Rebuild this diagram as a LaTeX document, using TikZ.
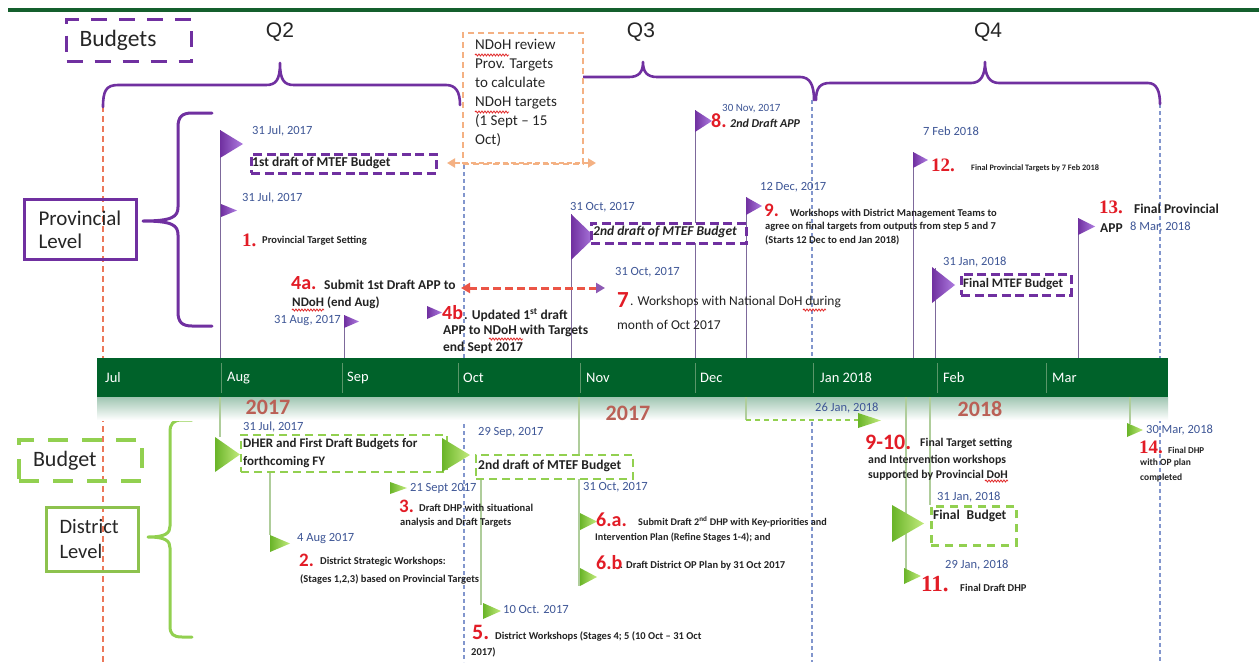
\documentclass[tikz,border=0pt]{standalone}
\usepackage{fontspec}
\setmainfont{Carlito}
\newfontfamily\qfont{Liberation Sans}
\newfontfamily\numfont{Liberation Serif}
\usetikzlibrary{arrows.meta,decorations.pathmorphing}

\definecolor{pur}{RGB}{112,48,160}
\definecolor{purlt}{RGB}{175,125,225}
\definecolor{polec}{RGB}{125,105,155}
\definecolor{tl}{RGB}{0,98,42}
\definecolor{tlsep}{RGB}{90,150,105}
\definecolor{topg}{RGB}{20,95,45}
\definecolor{gbox}{RGB}{146,208,80}
\definecolor{gline}{RGB}{141,194,78}
\definecolor{gpole}{RGB}{175,205,155}
\definecolor{gdk}{RGB}{105,180,40}
\definecolor{gltp}{RGB}{195,235,125}
\definecolor{obox}{RGB}{244,177,131}
\definecolor{numred}{RGB}{226,28,38}
\definecolor{dateblue}{RGB}{62,86,150}
\definecolor{vblue}{RGB}{130,150,205}
\definecolor{salmon}{RGB}{236,120,90}
\definecolor{yr}{RGB}{186,96,86}
\definecolor{txt}{RGB}{35,35,35}
\definecolor{redarr}{RGB}{235,85,70}
\definecolor{spell}{RGB}{225,40,40}

\newcommand\fsz[2]{\fontsize{#1}{#2}\selectfont}
% pennant: x, y of top corner, width, height, style
\newcommand\flagtri[5]{\path[#5] (#1,#2) -- ++(#3,#4/2) -- ++(-#3,#4/2) -- cycle;}

\tikzset{
  ppen/.style={left color=pur, right color=purlt, draw=none},
  gpen/.style={left color=gdk, right color=gltp, draw=none},
  ppole/.style={draw=polec, line width=0.9},
  gpoleline/.style={draw=gpole, line width=1.1},
  vdash/.style={draw=vblue, line width=1.2, dash pattern=on 4pt off 3pt},
  brace/.style={draw=pur, line width=2.6, line cap=round, line join=round},
  wavy/.style={draw=spell, line width=0.8, decorate, decoration={snake, amplitude=1pt, segment length=3pt}},
  qlab/.style={font=\qfont\fsz{21}{24}, text=black!85, inner sep=0},
  date/.style={font=\fsz{12.5}{14}, text=dateblue, anchor=west, inner sep=0},
  tiny/.style={font=\fsz{10.5}{15}\bfseries, text=txt, anchor=west, inner sep=0, align=left},
  mid/.style={font=\fsz{13}{17}\bfseries, text=txt, anchor=west, inner sep=0, align=left},
  norm/.style={font=\fsz{13.5}{16}, text=txt, anchor=west, inner sep=0},
  num/.style={font=\fsz{20}{20}\bfseries, text=numred, anchor=west, inner sep=0},
  sernum/.style={font=\numfont\fsz{19}{20}\bfseries, text=numred, anchor=west, inner sep=0},
  pbox/.style={draw=pur, line width=2.6, dash pattern=on 9pt off 4.5pt, fill=white,
    anchor=north west, inner sep=0pt},
  gdbox/.style={draw=gbox, line width=2.4, dash pattern=on 8pt off 5pt, fill=white,
    anchor=north west, inner sep=0pt},
  boxtxt/.style={font=\fsz{13.5}{18}\bfseries, text=txt, anchor=west, inner sep=0, align=left},
  month/.style={font=\fsz{14.5}{16}, text=white, anchor=west, inner sep=0},
  year/.style={font=\fsz{22}{22}\bfseries, text=yr, inner sep=0},
}

\begin{document}
\begin{tikzpicture}[x=1pt,y=-1pt]
\useasboundingbox[fill=white] (0,0) rectangle (1259,662);

% header rule
\draw[topg, line width=3.5] (8,10) -- (1259,10);

% vertical guide lines
\draw[salmon, line width=1.6, dash pattern=on 6pt off 4pt] (103,106) -- (103,662);
\draw[vdash] (464,165) -- (464,662);
\draw[vdash] (812,100) -- (812,662);
\draw[vdash] (1160,104) -- (1160,662);

% quarter braces
\draw[brace] (103,107) .. controls (103,91) and (106,85) .. (118,85) -- (266,85)
  .. controls (276,85) and (280,80) .. (280,63) .. controls (280,80) and (284,85) .. (294,85)
  -- (446,85) .. controls (456,85) and (460,92) .. (460,105);
\draw[brace] (560,77) -- (629,77) .. controls (639,77) and (643,72) .. (643,62)
  .. controls (643,72) and (647,77) .. (657,77) -- (800,77)
  .. controls (810,77) and (814,85) .. (814,100);
\draw[brace] (816,100) .. controls (816,88) and (820,83) .. (830,83) -- (971,83)
  .. controls (981,83) and (985,75) .. (985,62) .. controls (985,75) and (989,83) .. (999,83)
  -- (1148,83) .. controls (1157,83) and (1160,92) .. (1160,104);
\node[qlab] (q2) at (280,32) {Q2};
\node[qlab] (q3) at (641,32) {Q3};
\node[qlab] (q4) at (988,32) {Q4};

% legend box
\node[draw=pur, line width=3, dash pattern=on 16pt off 12pt, anchor=north west,
  minimum height=42, text width=99, inner xsep=13, inner ysep=0, align=left,
  font=\fsz{23.5}{24}, text=black!85] (budgets) at (65,18) {Budgets};

% NDoH review box
\node[draw=obox, line width=2, dash pattern=on 6pt off 4pt, fill=white, anchor=north west,
  minimum width=120, minimum height=131, inner sep=0] (ndoh) at (462,32) {};
\node[font=\fsz{15}{19}, text=black!85, align=left, anchor=north west, inner sep=0]
  (ndohtxt) at (475,39) {NDoH review\\Prov. Targets\\to calculate\\NDoH targets\\(1 Sept -- 15\\Oct)};
\draw[wavy] (475,55) -- (509,55);
\draw[wavy] (475,112) -- (509,112);
\coordinate (oa1) at (447,163);
\coordinate (oa2) at (596,163);
\draw[obox, line width=2.6, dash pattern=on 5pt off 3pt,
  {Triangle[length=8,width=9]}-{Triangle[length=8,width=9]}] (oa1) -- (oa2);

% level boxes and braces
\node[draw=pur, line width=3, anchor=north west, minimum height=60, text width=84,
  inner xsep=14, inner ysep=0, align=left, font=\fsz{21}{23}, text=black!85]
  (prov) at (23,198) {Provincial\\Level};
\draw[brace, line width=3] (212,113) -- (192,113) .. controls (182,113) and (178,117) .. (178,127)
  -- (178,207) .. controls (178,217) and (172,221) .. (143,221)
  .. controls (172,221) and (178,225) .. (178,235) -- (178,312)
  .. controls (178,322) and (182,326) .. (192,326) -- (212,326);

\node[draw=gline, line width=3, anchor=north west, minimum height=64, text width=66,
  inner xsep=13, inner ysep=0, align=left, font=\fsz{20.5}{25}, text=black!85]
  (dist) at (45,506) {District\\Level};
\node[draw=gbox, line width=4, dash pattern=on 20pt off 14pt, anchor=north west,
  minimum height=41, text width=95, inner xsep=14, inner ysep=0, align=left,
  font=\fsz{22}{24}, text=black!85] (budget) at (17,438) {Budget};
\draw[brace, draw=gbox, line width=3] (192,420) -- (182,420) .. controls (173,420) and (170,424) .. (170,432)
  -- (170,526) .. controls (170,533) and (166,537) .. (148,537)
  .. controls (166,537) and (170,541) .. (170,548) -- (170,626)
  .. controls (170,634) and (173,637) .. (182,637) -- (192,637);

% timeline bar
\shade[top color={rgb,255:red,160;green,198;blue,178}, bottom color=white] (97,397) rectangle (1168,420);
\fill[tl] (97,358) rectangle (1168,397);
\foreach \sx in {221,342,458,580,695,813,937,1046}
  \draw[tlsep, line width=0.8] (\sx,363) -- (\sx,393);
\node[month] (mjul) at (105,378) {Jul};
\node[month] (maug) at (227,378) {Aug};
\node[month] (msep) at (347,378) {Sep};
\node[month] (moct) at (463,378) {Oct};
\node[month] (mnov) at (586,378) {Nov};
\node[month] (mdec) at (700,378) {Dec};
\node[month] (mjan) at (820,378) {Jan 2018};
\node[month] (mfeb) at (943,378) {Feb};
\node[month] (mmar) at (1052,378) {Mar};
\node[year] (y1) at (268,407) {2017};
\node[year] (y2) at (628,413) {2017};
\node[year] (y3) at (980,409) {2018};

% ---------------- provincial milestones ----------------
\draw[ppole] (220,130) -- (220,358);
\draw[ppole] (344,315) -- (344,358);
\draw[ppole] (571,214) -- (571,358);
\draw[ppole] (695,110) -- (695,358);
\draw[ppole] (746,197) -- (746,358);
\draw[ppole] (913,152) -- (913,358);
\draw[ppole] (935,268) -- (935,358);
\draw[ppole] (1078,218) -- (1078,358);

\flagtri{220}{130}{23}{28}{ppen}
\node[date] (p1d) at (252,131) {31 Jul, 2017};
\node[pbox, minimum width=185, minimum height=19] (p1box) at (250,153) {};
\node[boxtxt] (p1bt) at (252,162.5) {1st draft of MTEF Budget};

\flagtri{221}{204}{16}{13}{ppen}
\node[date] (p1bd) at (242,198) {31 Jul, 2017};
\node[sernum] (p1n) at (242,240) {1.};
\node[tiny] (p1t) at (262,241) {Provincial Target Setting};

\node[num] (p4an) at (291,283) {4a.};
\node[mid, font=\fsz{13.5}{17}\bfseries] (p4at) at (324,285) {Submit 1st Draft APP to};
\node[mid] (p4at2) at (292,303) {NDoH (end Aug)};
\draw[wavy] (292,310) -- (324,310);
\flagtri{344}{315}{15}{13}{ppen}
\node[date, anchor=east] (p4ad) at (341,321) {31 Aug, 2017};
\coordinate (ra1) at (461,288);
\coordinate (ra2) at (605,288);
\draw[redarr, line width=3, dash pattern=on 8pt off 4pt,
  {Triangle[length=9,width=10]}-{Triangle[length=9,width=10,color=pur!80]}] (ra1) -- (ra2);

\flagtri{427}{306}{15}{13}{ppen}
\node[num] (p4bn) at (442,313) {4b};
\node[mid, font=\fsz{13.5}{17}\bfseries] (p4bt) at (464,315) {. Updated 1\textsuperscript{st} draft};
\node[mid, font=\fsz{13.5}{17}\bfseries, anchor=north west] (p4bt2) at (443,325) {APP to NDoH with Targets\\end Sept 2017};
\draw[wavy] (489,339) -- (523,339);

\flagtri{571}{214}{24}{46}{ppen}
\node[date] (p2d) at (570,207) {31 Oct, 2017};
\node[pbox, minimum width=155, minimum height=20] (p2box) at (590,222) {};
\node[boxtxt, font=\fsz{13.5}{15}\bfseries\itshape] (p2bt) at (593,232) {2nd draft of MTEF Budget};

\node[date] (p7d) at (615,272) {31 Oct, 2017};
\node[num, font=\fsz{23}{23}\bfseries] (p7n) at (617,300) {7};
\node[norm] (p7t) at (630,302) {. Workshops with National DoH during};
\node[norm] (p7t2) at (617,325) {month of Oct 2017};
\draw[wavy] (803,310) -- (826,310);

\flagtri{695}{110}{17}{22}{ppen}
\node[date, font=\fsz{11}{12}] (p8d) at (722,109) {30 Nov, 2017};
\node[num] (p8n) at (711,121) {8.};
\node[mid, font=\fsz{12}{14}\bfseries\itshape] (p8t) at (730,123) {2nd Draft APP};

\flagtri{746}{197}{16}{18}{ppen}
\node[date] (p9d) at (760,187) {12 Dec, 2017};
\node[num, font=\fsz{19}{20}\bfseries] (p9n) at (764,210) {9.};
\node[tiny] (p9t) at (790,214) {Workshops with District Management Teams to};
\node[tiny, font=\fsz{10.5}{14}\bfseries, anchor=north west] (p9t2) at (765,222) {agree on final targets from outputs from step 5 and 7\\(Starts 12 Dec to end Jan 2018)};

\flagtri{913}{152}{15}{16}{ppen}
\node[date] (p12d) at (923,131) {7 Feb 2018};
\node[sernum] (p12n) at (931,165) {12.};
\node[tiny, font=\fsz{8.3}{10}\bfseries] (p12t) at (971,168) {Final Provincial Targets by 7 Feb 2018};

\flagtri{932}{267}{23}{36}{ppen}
\node[date] (pfd) at (943,262) {31 Jan, 2018};
\node[pbox, minimum width=110, minimum height=21] (pfbox) at (960,273) {};
\node[boxtxt, font=\fsz{13}{15}\bfseries] (pfbt) at (963,284) {Final MTEF Budget};

\flagtri{1078}{218}{17}{17}{ppen}
\node[sernum] (p13n) at (1099,207) {13.};
\node[mid, font=\fsz{13.5}{15}\bfseries] (p13t) at (1134,209) {Final Provincial};
\node[mid, font=\fsz{13.5}{15}\bfseries] (p13t2) at (1100,228) {APP};
\node[date] (p13d) at (1130,227) {8 Mar, 2018};

% ---------------- district milestones ----------------
\draw[gpoleline] (220,397) -- (220,437);
\draw[gpoleline] (270,471) -- (270,535);
\draw[gpoleline] (481,478) -- (481,605);
\draw[gpoleline] (579,397) -- (579,586);
\draw[gpoleline] (906,397) -- (906,569);
\draw[gpoleline] (930,397) -- (930,505);
\draw[gpoleline] (1130,397) -- (1130,424);
\coordinate (e1) at (746,397);
\coordinate (e2) at (746,420);
\coordinate (e3) at (858,420);
\draw[gpoleline] (e1) -- (e2);
\draw[gbox, line width=1.3, dash pattern=on 5pt off 4pt] (e2) -- (e3);

\node[gdbox, minimum width=206, minimum height=37] (d1box) at (240,434) {};
\node[boxtxt, font=\fsz{13}{18}\bfseries, anchor=north west] (d1bt) at (243,438) {DHER and First Draft Budgets for\\forthcoming FY};
\flagtri{215}{437}{25}{35}{gpen}
\node[date] (d1d) at (243,427) {31 Jul, 2017};

\node[gdbox, minimum width=157, minimum height=24] (d2box) at (475,454) {};
\node[boxtxt, font=\fsz{13.5}{15}\bfseries] (d2bt) at (478,466) {2nd draft of MTEF Budget};
\flagtri{442}{438}{28}{34}{gpen}
\node[date] (d2d) at (478,432) {29 Sep, 2017};

\flagtri{390}{482}{17}{12}{gpen}
\node[date] (d3d) at (410,488) {21 Sept 2017};
\node[num, font=\fsz{19}{20}\bfseries] (d3n) at (399,506) {3.};
\node[tiny] (d3t) at (419,508) {Draft DHP with situational};
\node[tiny] (d3t2) at (400,523) {analysis and Draft Targets};

\flagtri{270}{535}{20}{17}{gpen}
\node[date] (d4d) at (297,539) {4 Aug 2017};
\node[num, font=\fsz{19}{20}\bfseries] (d2n) at (299,560) {2.};
\node[tiny] (d2t) at (320,562) {District Strategic Workshops:};
\node[tiny] (d2t2) at (300,579) {(Stages 1,2,3) based on Provincial Targets};

\flagtri{483}{603}{18}{16}{gpen}
\node[date] (d5d) at (503,609) {10 Oct. 2017};
\node[num, font=\fsz{22}{22}\bfseries] (d5n) at (472,632) {5.};
\node[tiny] (d5t) at (495,636) {District Workshops (Stages 4; 5 (10 Oct -- 31 Oct};
\node[tiny] (d5t2) at (471,652) {2017)};

\node[date] (d6d) at (583,487) {31 Oct, 2017};
\flagtri{580}{513}{17}{17}{gpen}
\node[num] (d6an) at (596,520) {6.a.};
\node[tiny, font=\fsz{10.2}{12}\bfseries] (d6at) at (638,522) {Submit Draft 2\textsuperscript{nd} DHP with Key-priorities and};
\node[tiny, font=\fsz{10.2}{12}\bfseries] (d6at2) at (595,538) {Intervention Plan (Refine Stages 1-4); and};
\flagtri{580}{568}{17}{18}{gpen}
\node[num] (d6bn) at (596,563) {6.b};
\node[tiny] (d6bt) at (620,566) {. Draft District OP Plan by 31 Oct 2017};

\node[date] (d910d) at (815,408) {26 Jan, 2018};
\flagtri{858}{413}{23}{15}{gpen}
\node[num, font=\fsz{22}{22}\bfseries] (d910n) at (865,442) {9-10.};
\node[tiny, font=\fsz{11.8}{15}\bfseries] (d910t) at (920,443) {Final Target setting};
\node[tiny, font=\fsz{11.8}{15}\bfseries, anchor=north west] (d910t2) at (868,455) {and Intervention workshops\\supported by Provincial DoH};
\draw[wavy] (985,481) -- (1008,481);

\node[draw=gbox, line width=2.6, dash pattern=on 8pt off 6pt, fill=white, anchor=north west,
  minimum width=85, minimum height=39, inner sep=0] (dfbox) at (930,505) {};
\node[boxtxt, anchor=north west] (dft) at (933,510) {Final\enspace Budget};
\flagtri{892}{505}{32}{37}{gpen}
\node[date] (dfd) at (937,497) {31 Jan, 2018};

\flagtri{904}{568}{17}{16}{gpen}
\node[date] (d11d) at (945,565) {29 Jan, 2018};
\node[sernum, font=\numfont\fsz{23}{23}\bfseries] (d11n) at (921,584) {11.};
\node[tiny] (d11t) at (960,588) {Final Draft DHP};

\flagtri{1127}{423}{16}{14}{gpen}
\node[date] (d14d) at (1146,430) {30 Mar, 2018};
\node[sernum] (d14n) at (1139,447) {14.};
\node[tiny, font=\fsz{9}{15}\bfseries] (d14t) at (1168,450) {Final DHP};
\node[tiny, font=\fsz{9.5}{15}\bfseries, anchor=north west] (d14t2) at (1140,459) {with OP plan\\completed};

\end{tikzpicture}
\end{document}
